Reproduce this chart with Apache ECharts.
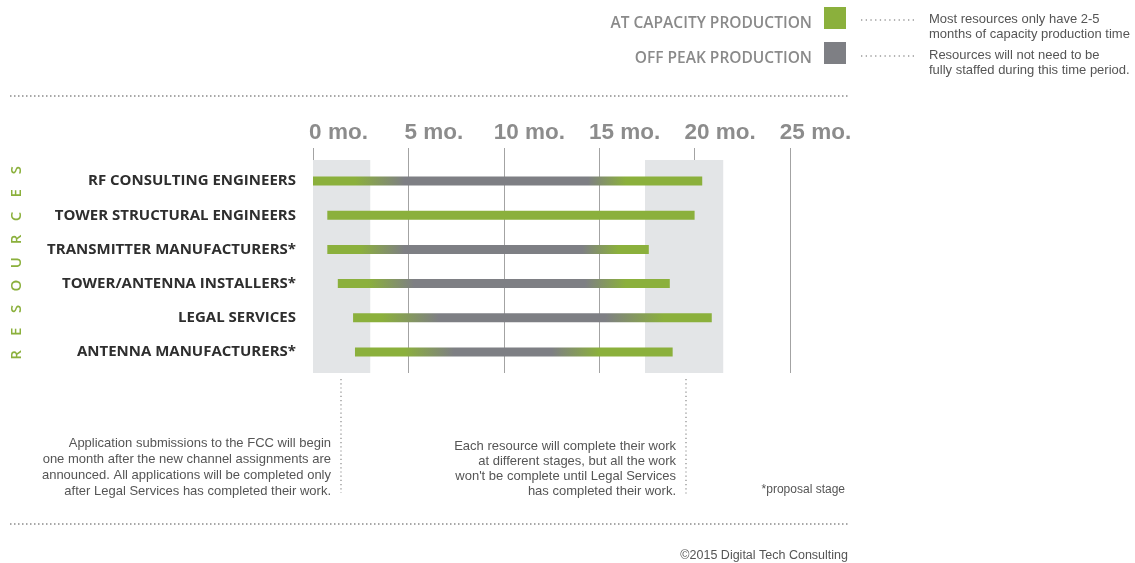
<!DOCTYPE html>
<html>
<head>
<meta charset="utf-8">
<script src="https://cdn.jsdelivr.net/npm/echarts@6/dist/echarts.min.js"></script>
<style>
html,body{margin:0;padding:0;background:#fff;}
#chart{width:1135px;height:563px;}
</style>
</head>
<body>
<div id="chart"></div>
<script>
// ---- data ----
const categories = ['RF CONSULTING ENGINEERS', 'TOWER STRUCTURAL ENGINEERS', 'TRANSMITTER MANUFACTURERS*', 'TOWER/ANTENNA INSTALLERS*', 'LEGAL SERVICES', 'ANTENNA MANUFACTURERS*'];
const startMo = [0, 0.75, 0.75, 1.3, 2.1, 2.2];
const endMo = [20.4, 20.0, 17.6, 18.7, 20.9, 18.85];
// at-capacity green fades into off-peak gray, then back to green (null = no off-peak period)
const capEndMo = [2.2, null, 2.45, 2.9, 3.6, 4.8];
const offStartMo = [4.8, null, 4.8, 5.3, 6.6, 7.4];
const offEndMo = [14.4, null, 14.1, 14.25, 15.3, 12.5];
const capStartMo = [16.4, null, 16.0, 16.4, 18.4, 15.0];
const bandStart = [0, 17.4];
const bandEnd = [3, 21.5];
const xTicks = [0, 5, 10, 15, 20, 25];
const legendNames = ['AT CAPACITY PRODUCTION', 'OFF PEAK PRODUCTION'];
const legendNotes = ['Most resources only have 2-5\nmonths of capacity production time', 'Resources will not need to be\nfully staffed during this time period.'];
const note1 = 'Application submissions to the FCC will begin\none month after the new channel assignments are\nannounced. All applications will be completed only\nafter Legal Services has completed their work.';
const note2 = 'Each resource will complete their work\nat different stages, but all the work\nwon\'t be complete until Legal Services\nhas completed their work.';
const footnote = '*proposal stage';
const credit = '\u00a92015 Digital Tech Consulting';
const sideLabel = 'RESOURCES';

const GREEN = '#8bb03c';
const GRAY = '#7e7f84';
const TXT = '#555555';
const NOTE_FONT = '13px "Liberation Sans", Arial, sans-serif';
// shaded bands stop a little below the top of the gridlines (fraction of grid height)
const BAND_TOP = 213 / 225;

const chart = echarts.init(document.getElementById('chart'));

const barData = categories.map((c, i) => [i, startMo[i], endMo[i]]);

function renderBar(params, api) {
  const i = params.dataIndex;
  const s = api.value(1), e = api.value(2), yi = api.value(0);
  const p0 = api.coord([s, yi]);
  const p1 = api.coord([e, yi]);
  const h = 9;
  let fill;
  if (capEndMo[i] == null) {
    fill = GREEN;
  } else {
    const f = v => Math.max(0, Math.min(1, (v - s) / (e - s)));
    fill = new echarts.graphic.LinearGradient(0, 0, 1, 0, [
      { offset: 0, color: GREEN },
      { offset: f(capEndMo[i]), color: GREEN },
      { offset: f(offStartMo[i]), color: GRAY },
      { offset: f(offEndMo[i]), color: GRAY },
      { offset: f(capStartMo[i]), color: GREEN },
      { offset: 1, color: GREEN }
    ]);
  }
  return {
    type: 'rect',
    shape: { x: p0[0], y: p0[1] - h / 2, width: p1[0] - p0[0], height: h },
    style: { fill: fill }
  };
}

const graphics = [];
// dotted horizontal separators
[96, 524].forEach(y => graphics.push({
  type: 'line', shape: { x1: 10, y1: y, x2: 848, y2: y },
  style: { stroke: '#8a8a8a', lineWidth: 1.6, lineDash: [1.5, 2.5] }
}));
// legend leader dots and notes
[20, 56].forEach((y, k) => {
  graphics.push({
    type: 'line', shape: { x1: 861, y1: y, x2: 916, y2: y },
    style: { stroke: '#9a9a9a', lineWidth: 1.5, lineDash: [1.3, 3.4] }
  });
  graphics.push({
    type: 'text', x: 929, y: y - 8.5,
    style: { text: legendNotes[k], fill: TXT, font: NOTE_FONT, lineHeight: 15.5, textAlign: 'left', textVerticalAlign: 'top' }
  });
});
// annotation dotted verticals
graphics.push({ type: 'line', shape: { x1: 341, y1: 379, x2: 341, y2: 493 }, style: { stroke: '#9a9a9a', lineWidth: 1.4, lineDash: [1.2, 3] } });
graphics.push({ type: 'line', shape: { x1: 686, y1: 379, x2: 686, y2: 495 }, style: { stroke: '#9a9a9a', lineWidth: 1.4, lineDash: [1.2, 3] } });
graphics.push({
  type: 'text', x: 331, y: 436,
  style: { text: note1, fill: TXT, font: NOTE_FONT, lineHeight: 15.7, textAlign: 'right', textVerticalAlign: 'top' }
});
graphics.push({
  type: 'text', x: 676, y: 438.5,
  style: { text: note2, fill: TXT, font: NOTE_FONT, lineHeight: 15.2, textAlign: 'right', textVerticalAlign: 'top' }
});
graphics.push({
  type: 'text', x: 845, y: 489.5,
  style: { text: footnote, fill: TXT, font: '12px "Liberation Sans", Arial, sans-serif', textAlign: 'right', textVerticalAlign: 'middle' }
});
graphics.push({
  type: 'text', x: 848, y: 556,
  style: { text: credit, fill: TXT, font: '12.5px "Liberation Sans", Arial, sans-serif', textAlign: 'right', textVerticalAlign: 'middle' }
});
// vertical spaced side label
sideLabel.split('').forEach((ch, k) => {
  graphics.push({
    type: 'text', x: 17, y: 355 - k * 23.1, rotation: Math.PI / 2,
    style: { text: ch, fill: GREEN, font: '600 15px "Open Sans", sans-serif', textAlign: 'center', textVerticalAlign: 'middle' }
  });
});

const option = {
  backgroundColor: '#ffffff',
  animation: false,
  legend: {
    data: legendNames,
    orient: 'vertical',
    align: 'right',
    right: 284,
    top: 2,
    itemWidth: 22,
    itemHeight: 22,
    itemGap: 10,
    icon: 'rect',
    selectedMode: false,
    formatter: name => '{t|' + name + '}',
    textStyle: {
      rich: {
        t: { color: '#8a8a8a', fontSize: 15.5, fontWeight: 600, fontFamily: '"Open Sans", sans-serif', padding: [12, 7, 0, 0] }
      }
    }
  },
  grid: [
    { left: 313, right: 345, top: 148, bottom: 190 },
    { left: 313, right: 345, top: 164, bottom: 194 }
  ],
  xAxis: [
    {
      gridIndex: 0, type: 'value', min: 0, max: 25, interval: 5, position: 'top',
      axisLine: { show: false, onZero: false },
      axisTick: { show: false },
      splitLine: { show: true, lineStyle: { color: '#a3a3a3', width: 1 } },
      axisLabel: {
        margin: 4, align: 'center', padding: [0, 0, 0, 51], color: '#8c8c8c', fontSize: 22.5, fontWeight: 'bold',
        fontFamily: '"Liberation Sans", Arial, sans-serif',
        formatter: v => (xTicks.indexOf(v) >= 0 ? v + ' mo.' : '')
      }
    },
    { gridIndex: 1, type: 'value', min: 0, max: 25, show: false }
  ],
  yAxis: [
    { gridIndex: 0, type: 'value', min: 0, max: 1, show: false },
    {
      gridIndex: 1, type: 'category', data: categories, inverse: true,
      axisLine: { show: false }, axisTick: { show: false }, splitLine: { show: false },
      axisLabel: { margin: 17, color: '#2e2e2e', fontSize: 15, fontWeight: 'bold', fontFamily: '"Open Sans", sans-serif' }
    }
  ],
  series: [
    {
      type: 'line', xAxisIndex: 0, yAxisIndex: 0, data: [], z: -1, silent: true,
      markArea: {
        silent: true,
        itemStyle: { color: '#e3e5e7' },
        data: bandStart.map((b, k) => [{ xAxis: b, yAxis: 0 }, { xAxis: bandEnd[k], yAxis: BAND_TOP }])
      }
    },
    {
      type: 'custom', xAxisIndex: 1, yAxisIndex: 1, data: barData,
      encode: { x: [1, 2], y: 0 }, renderItem: renderBar, silent: true
    },
    { name: legendNames[0], type: 'bar', xAxisIndex: 1, yAxisIndex: 1, data: [], itemStyle: { color: GREEN } },
    { name: legendNames[1], type: 'bar', xAxisIndex: 1, yAxisIndex: 1, data: [], itemStyle: { color: GRAY } }
  ],
  graphic: graphics
};
chart.setOption(option);
</script>
</body>
</html>
